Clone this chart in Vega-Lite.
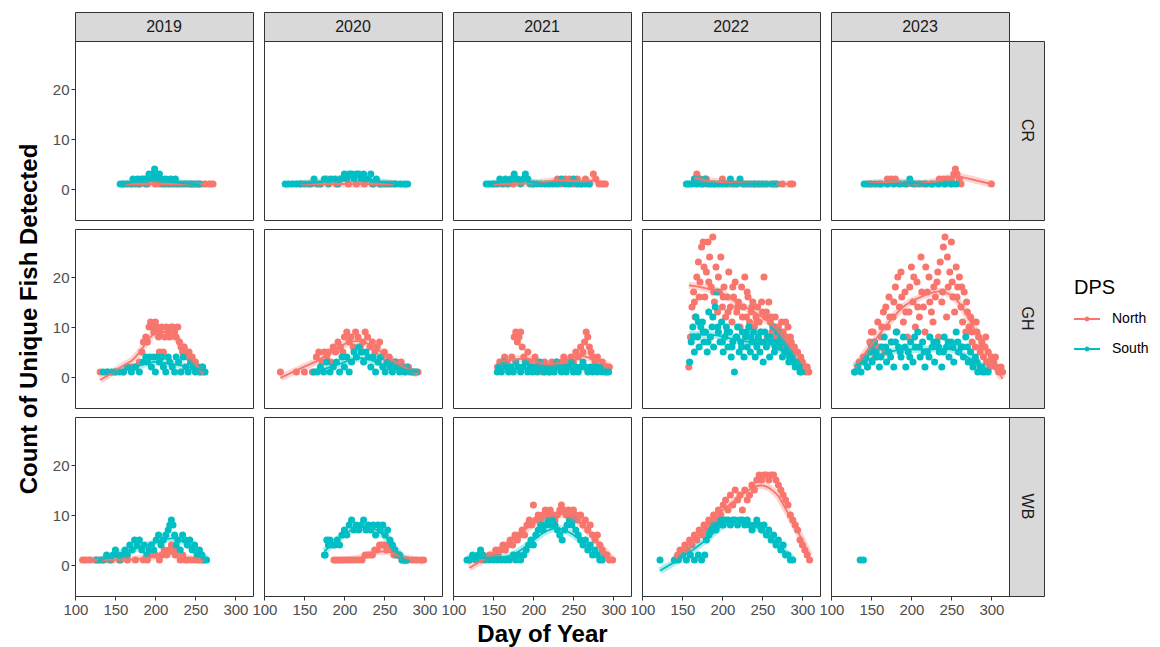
{
"$schema":"https://vega.github.io/schema/vega-lite/v6.json",
"autosize":{"type":"pad"},
"padding":{"left":16,"top":11,"right":5,"bottom":2},
"background":"white",
"datasets":{
"CR19":[{"g":"N","d":160,"n":1},{"g":"N","d":170,"n":1},{"g":"N","d":180,"n":1},{"g":"N","d":190,"n":1},{"g":"N","d":198,"n":2},{"g":"N","d":200,"n":1},{"g":"N","d":203,"n":2},{"g":"N","d":206,"n":1},{"g":"N","d":212,"n":1},{"g":"N","d":218,"n":1},{"g":"N","d":226,"n":1},{"g":"N","d":245,"n":1},{"g":"N","d":255,"n":1},{"g":"N","d":262,"n":1},{"g":"N","d":268,"n":1},{"g":"N","d":272,"n":1},
{"g":"S","d":156,"n":1},{"g":"S","d":160,"n":1},{"g":"S","d":165,"n":1},{"g":"S","d":170,"n":1},{"g":"S","d":172,"n":2},{"g":"S","d":175,"n":1},{"g":"S","d":178,"n":2},{"g":"S","d":180,"n":1},{"g":"S","d":183,"n":2},{"g":"S","d":186,"n":2},{"g":"S","d":188,"n":1},{"g":"S","d":190,"n":2},{"g":"S","d":192,"n":3},{"g":"S","d":195,"n":2},{"g":"S","d":197,"n":3},{"g":"S","d":199,"n":4},{"g":"S","d":201,"n":3},{"g":"S","d":203,"n":2},{"g":"S","d":205,"n":3},{"g":"S","d":207,"n":2},{"g":"S","d":210,"n":1},{"g":"S","d":213,"n":2},{"g":"S","d":216,"n":1},{"g":"S","d":219,"n":2},{"g":"S","d":222,"n":1},{"g":"S","d":225,"n":2},{"g":"S","d":228,"n":1},{"g":"S","d":232,"n":1},{"g":"S","d":236,"n":1},{"g":"S","d":240,"n":1},{"g":"S","d":244,"n":1},{"g":"S","d":248,"n":1},{"g":"S","d":252,"n":1},{"g":"S","d":256,"n":1}],
"CR20":[{"g":"N","d":145,"n":1},{"g":"N","d":155,"n":1},{"g":"N","d":170,"n":1},{"g":"N","d":178,"n":2},{"g":"N","d":190,"n":1},{"g":"N","d":195,"n":2},{"g":"N","d":205,"n":1},{"g":"N","d":215,"n":1},{"g":"N","d":225,"n":1},{"g":"N","d":235,"n":1},{"g":"N","d":245,"n":1},{"g":"N","d":255,"n":1},{"g":"N","d":262,"n":1},
{"g":"S","d":126,"n":1},{"g":"S","d":130,"n":1},{"g":"S","d":135,"n":1},{"g":"S","d":140,"n":1},{"g":"S","d":145,"n":1},{"g":"S","d":150,"n":1},{"g":"S","d":158,"n":1},{"g":"S","d":162,"n":2},{"g":"S","d":166,"n":1},{"g":"S","d":170,"n":1},{"g":"S","d":175,"n":2},{"g":"S","d":180,"n":1},{"g":"S","d":183,"n":2},{"g":"S","d":188,"n":2},{"g":"S","d":192,"n":1},{"g":"S","d":196,"n":2},{"g":"S","d":200,"n":3},{"g":"S","d":203,"n":2},{"g":"S","d":206,"n":3},{"g":"S","d":209,"n":3},{"g":"S","d":212,"n":2},{"g":"S","d":215,"n":3},{"g":"S","d":218,"n":3},{"g":"S","d":221,"n":2},{"g":"S","d":224,"n":3},{"g":"S","d":227,"n":2},{"g":"S","d":230,"n":2},{"g":"S","d":233,"n":3},{"g":"S","d":236,"n":1},{"g":"S","d":240,"n":2},{"g":"S","d":244,"n":1},{"g":"S","d":248,"n":1},{"g":"S","d":252,"n":1},{"g":"S","d":258,"n":1},{"g":"S","d":264,"n":1},{"g":"S","d":270,"n":1},{"g":"S","d":275,"n":1},{"g":"S","d":279,"n":1}],
"CR21":[{"g":"N","d":150,"n":1},{"g":"N","d":175,"n":1},{"g":"N","d":200,"n":1},{"g":"N","d":230,"n":2},{"g":"N","d":235,"n":1},{"g":"N","d":240,"n":2},{"g":"N","d":245,"n":2},{"g":"N","d":250,"n":1},{"g":"N","d":255,"n":2},{"g":"N","d":260,"n":1},{"g":"N","d":265,"n":2},{"g":"N","d":270,"n":1},{"g":"N","d":275,"n":3},{"g":"N","d":278,"n":2},{"g":"N","d":282,"n":1},{"g":"N","d":286,"n":1},{"g":"N","d":290,"n":1},
{"g":"S","d":141,"n":1},{"g":"S","d":145,"n":1},{"g":"S","d":150,"n":1},{"g":"S","d":155,"n":1},{"g":"S","d":158,"n":2},{"g":"S","d":162,"n":1},{"g":"S","d":165,"n":2},{"g":"S","d":168,"n":1},{"g":"S","d":172,"n":2},{"g":"S","d":176,"n":3},{"g":"S","d":180,"n":2},{"g":"S","d":184,"n":1},{"g":"S","d":187,"n":2},{"g":"S","d":190,"n":3},{"g":"S","d":193,"n":2},{"g":"S","d":196,"n":1},{"g":"S","d":200,"n":1},{"g":"S","d":205,"n":1},{"g":"S","d":210,"n":1},{"g":"S","d":215,"n":1},{"g":"S","d":220,"n":1},{"g":"S","d":225,"n":1},{"g":"S","d":230,"n":1},{"g":"S","d":235,"n":2},{"g":"S","d":240,"n":1},{"g":"S","d":245,"n":1},{"g":"S","d":250,"n":2},{"g":"S","d":255,"n":1},{"g":"S","d":260,"n":1},{"g":"S","d":265,"n":1},{"g":"S","d":270,"n":1}],
"CR22":[{"g":"N","d":165,"n":2},{"g":"N","d":168,"n":3},{"g":"N","d":172,"n":2},{"g":"N","d":176,"n":1},{"g":"N","d":180,"n":2},{"g":"N","d":190,"n":1},{"g":"N","d":200,"n":2},{"g":"N","d":210,"n":1},{"g":"N","d":240,"n":1},{"g":"N","d":265,"n":1},{"g":"N","d":275,"n":1},{"g":"N","d":285,"n":1},{"g":"N","d":288,"n":1},
{"g":"S","d":155,"n":1},{"g":"S","d":158,"n":1},{"g":"S","d":162,"n":1},{"g":"S","d":165,"n":2},{"g":"S","d":168,"n":1},{"g":"S","d":171,"n":2},{"g":"S","d":174,"n":1},{"g":"S","d":178,"n":2},{"g":"S","d":182,"n":1},{"g":"S","d":186,"n":1},{"g":"S","d":190,"n":1},{"g":"S","d":195,"n":1},{"g":"S","d":200,"n":1},{"g":"S","d":205,"n":1},{"g":"S","d":210,"n":2},{"g":"S","d":214,"n":1},{"g":"S","d":218,"n":1},{"g":"S","d":222,"n":2},{"g":"S","d":226,"n":1},{"g":"S","d":230,"n":1},{"g":"S","d":235,"n":1},{"g":"S","d":240,"n":1},{"g":"S","d":245,"n":1},{"g":"S","d":250,"n":1},{"g":"S","d":255,"n":1},{"g":"S","d":262,"n":1},{"g":"S","d":268,"n":1}],
"CR23":[{"g":"N","d":145,"n":1},{"g":"N","d":150,"n":1},{"g":"N","d":160,"n":1},{"g":"N","d":170,"n":2},{"g":"N","d":175,"n":2},{"g":"N","d":180,"n":2},{"g":"N","d":185,"n":1},{"g":"N","d":195,"n":1},{"g":"N","d":205,"n":1},{"g":"N","d":215,"n":1},{"g":"N","d":225,"n":1},{"g":"N","d":235,"n":2},{"g":"N","d":240,"n":2},{"g":"N","d":245,"n":2},{"g":"N","d":250,"n":2},{"g":"N","d":253,"n":3},{"g":"N","d":255,"n":4},{"g":"N","d":257,"n":3},{"g":"N","d":260,"n":2},{"g":"N","d":262,"n":1},{"g":"N","d":300,"n":1},
{"g":"S","d":141,"n":1},{"g":"S","d":148,"n":1},{"g":"S","d":155,"n":1},{"g":"S","d":162,"n":1},{"g":"S","d":170,"n":1},{"g":"S","d":178,"n":1},{"g":"S","d":186,"n":1},{"g":"S","d":192,"n":1},{"g":"S","d":198,"n":2},{"g":"S","d":202,"n":1},{"g":"S","d":210,"n":1},{"g":"S","d":218,"n":1},{"g":"S","d":226,"n":1},{"g":"S","d":234,"n":1},{"g":"S","d":242,"n":1},{"g":"S","d":250,"n":1},{"g":"S","d":256,"n":1}],
"GH19":[{"g":"N","d":131,"n":1},{"g":"N","d":140,"n":1},{"g":"N","d":150,"n":1},{"g":"N","d":160,"n":1},{"g":"N","d":165,"n":2},{"g":"N","d":170,"n":2},{"g":"N","d":175,"n":2},{"g":"N","d":180,"n":3},{"g":"N","d":183,"n":5},{"g":"N","d":185,"n":7},{"g":"N","d":188,"n":8},{"g":"N","d":190,"n":7},{"g":"N","d":192,"n":10},{"g":"N","d":194,"n":11},{"g":"N","d":196,"n":10},{"g":"N","d":198,"n":9},{"g":"N","d":200,"n":11},{"g":"N","d":202,"n":10},{"g":"N","d":204,"n":8},{"g":"N","d":205,"n":5},{"g":"N","d":206,"n":9},{"g":"N","d":208,"n":10},{"g":"N","d":210,"n":5},{"g":"N","d":212,"n":8},{"g":"N","d":214,"n":10},{"g":"N","d":216,"n":9},{"g":"N","d":218,"n":8},{"g":"N","d":220,"n":10},{"g":"N","d":222,"n":10},{"g":"N","d":224,"n":9},{"g":"N","d":226,"n":8},{"g":"N","d":228,"n":10},{"g":"N","d":230,"n":7},{"g":"N","d":232,"n":6},{"g":"N","d":234,"n":5},{"g":"N","d":236,"n":6},{"g":"N","d":238,"n":5},{"g":"N","d":240,"n":4},{"g":"N","d":242,"n":5},{"g":"N","d":244,"n":3},{"g":"N","d":246,"n":4},{"g":"N","d":248,"n":2},{"g":"N","d":250,"n":3},{"g":"N","d":252,"n":2},{"g":"N","d":255,"n":1},{"g":"N","d":258,"n":2},{"g":"N","d":260,"n":1},
{"g":"S","d":135,"n":1},{"g":"S","d":140,"n":1},{"g":"S","d":145,"n":1},{"g":"S","d":150,"n":1},{"g":"S","d":155,"n":1},{"g":"S","d":160,"n":1},{"g":"S","d":165,"n":2},{"g":"S","d":170,"n":1},{"g":"S","d":175,"n":2},{"g":"S","d":180,"n":1},{"g":"S","d":185,"n":3},{"g":"S","d":188,"n":4},{"g":"S","d":190,"n":3},{"g":"S","d":193,"n":4},{"g":"S","d":195,"n":2},{"g":"S","d":198,"n":4},{"g":"S","d":200,"n":1},{"g":"S","d":203,"n":4},{"g":"S","d":205,"n":3},{"g":"S","d":208,"n":4},{"g":"S","d":210,"n":2},{"g":"S","d":213,"n":1},{"g":"S","d":216,"n":4},{"g":"S","d":218,"n":3},{"g":"S","d":221,"n":2},{"g":"S","d":224,"n":1},{"g":"S","d":226,"n":4},{"g":"S","d":229,"n":3},{"g":"S","d":232,"n":1},{"g":"S","d":235,"n":4},{"g":"S","d":238,"n":2},{"g":"S","d":241,"n":1},{"g":"S","d":244,"n":3},{"g":"S","d":247,"n":2},{"g":"S","d":250,"n":1},{"g":"S","d":253,"n":2},{"g":"S","d":256,"n":1},{"g":"S","d":259,"n":2},{"g":"S","d":262,"n":1}],
"GH20":[{"g":"N","d":120,"n":1},{"g":"N","d":140,"n":1},{"g":"N","d":150,"n":1},{"g":"N","d":160,"n":1},{"g":"N","d":165,"n":4},{"g":"N","d":168,"n":5},{"g":"N","d":172,"n":3},{"g":"N","d":175,"n":5},{"g":"N","d":178,"n":4},{"g":"N","d":180,"n":5},{"g":"N","d":183,"n":3},{"g":"N","d":186,"n":6},{"g":"N","d":189,"n":5},{"g":"N","d":192,"n":7},{"g":"N","d":195,"n":6},{"g":"N","d":198,"n":5},{"g":"N","d":200,"n":8},{"g":"N","d":203,"n":9},{"g":"N","d":206,"n":7},{"g":"N","d":208,"n":8},{"g":"N","d":211,"n":6},{"g":"N","d":214,"n":9},{"g":"N","d":217,"n":8},{"g":"N","d":220,"n":6},{"g":"N","d":223,"n":7},{"g":"N","d":226,"n":9},{"g":"N","d":229,"n":8},{"g":"N","d":232,"n":6},{"g":"N","d":235,"n":7},{"g":"N","d":238,"n":5},{"g":"N","d":241,"n":6},{"g":"N","d":244,"n":7},{"g":"N","d":247,"n":4},{"g":"N","d":250,"n":5},{"g":"N","d":253,"n":3},{"g":"N","d":256,"n":4},{"g":"N","d":259,"n":3},{"g":"N","d":262,"n":2},{"g":"N","d":265,"n":3},{"g":"N","d":268,"n":2},{"g":"N","d":271,"n":3},{"g":"N","d":274,"n":2},{"g":"N","d":277,"n":1},{"g":"N","d":280,"n":2},{"g":"N","d":284,"n":1},{"g":"N","d":288,"n":1},{"g":"N","d":292,"n":1},
{"g":"S","d":162,"n":1},{"g":"S","d":166,"n":1},{"g":"S","d":170,"n":2},{"g":"S","d":174,"n":1},{"g":"S","d":178,"n":3},{"g":"S","d":182,"n":1},{"g":"S","d":186,"n":2},{"g":"S","d":190,"n":3},{"g":"S","d":194,"n":1},{"g":"S","d":197,"n":4},{"g":"S","d":200,"n":2},{"g":"S","d":203,"n":4},{"g":"S","d":206,"n":1},{"g":"S","d":209,"n":3},{"g":"S","d":212,"n":5},{"g":"S","d":215,"n":4},{"g":"S","d":218,"n":6},{"g":"S","d":221,"n":5},{"g":"S","d":224,"n":3},{"g":"S","d":227,"n":5},{"g":"S","d":230,"n":4},{"g":"S","d":233,"n":2},{"g":"S","d":236,"n":4},{"g":"S","d":239,"n":1},{"g":"S","d":242,"n":3},{"g":"S","d":245,"n":4},{"g":"S","d":248,"n":2},{"g":"S","d":251,"n":1},{"g":"S","d":254,"n":3},{"g":"S","d":257,"n":2},{"g":"S","d":260,"n":1},{"g":"S","d":263,"n":3},{"g":"S","d":266,"n":2},{"g":"S","d":269,"n":1},{"g":"S","d":272,"n":2},{"g":"S","d":275,"n":1},{"g":"S","d":278,"n":2},{"g":"S","d":282,"n":1},{"g":"S","d":286,"n":1},{"g":"S","d":290,"n":1}],
"GH21":[{"g":"N","d":155,"n":2},{"g":"N","d":158,"n":3},{"g":"N","d":161,"n":2},{"g":"N","d":164,"n":4},{"g":"N","d":167,"n":3},{"g":"N","d":170,"n":2},{"g":"N","d":173,"n":4},{"g":"N","d":176,"n":8},{"g":"N","d":178,"n":9},{"g":"N","d":180,"n":7},{"g":"N","d":182,"n":8},{"g":"N","d":184,"n":9},{"g":"N","d":186,"n":6},{"g":"N","d":188,"n":4},{"g":"N","d":190,"n":3},{"g":"N","d":193,"n":5},{"g":"N","d":196,"n":3},{"g":"N","d":199,"n":2},{"g":"N","d":202,"n":4},{"g":"N","d":205,"n":3},{"g":"N","d":208,"n":2},{"g":"N","d":211,"n":1},{"g":"N","d":214,"n":3},{"g":"N","d":217,"n":2},{"g":"N","d":220,"n":1},{"g":"N","d":223,"n":3},{"g":"N","d":226,"n":2},{"g":"N","d":229,"n":3},{"g":"N","d":232,"n":2},{"g":"N","d":235,"n":3},{"g":"N","d":238,"n":4},{"g":"N","d":241,"n":3},{"g":"N","d":244,"n":2},{"g":"N","d":247,"n":4},{"g":"N","d":250,"n":3},{"g":"N","d":253,"n":5},{"g":"N","d":256,"n":4},{"g":"N","d":259,"n":6},{"g":"N","d":262,"n":5},{"g":"N","d":264,"n":7},{"g":"N","d":266,"n":9},{"g":"N","d":268,"n":8},{"g":"N","d":270,"n":6},{"g":"N","d":272,"n":5},{"g":"N","d":274,"n":4},{"g":"N","d":277,"n":3},{"g":"N","d":280,"n":4},{"g":"N","d":283,"n":2},{"g":"N","d":286,"n":3},{"g":"N","d":289,"n":2},{"g":"N","d":292,"n":1},{"g":"N","d":295,"n":2},
{"g":"S","d":155,"n":1},{"g":"S","d":157,"n":2},{"g":"S","d":160,"n":1},{"g":"S","d":163,"n":3},{"g":"S","d":166,"n":2},{"g":"S","d":169,"n":1},{"g":"S","d":172,"n":2},{"g":"S","d":175,"n":1},{"g":"S","d":178,"n":3},{"g":"S","d":181,"n":2},{"g":"S","d":184,"n":1},{"g":"S","d":187,"n":2},{"g":"S","d":190,"n":3},{"g":"S","d":193,"n":1},{"g":"S","d":196,"n":2},{"g":"S","d":199,"n":1},{"g":"S","d":202,"n":2},{"g":"S","d":205,"n":1},{"g":"S","d":208,"n":3},{"g":"S","d":211,"n":2},{"g":"S","d":214,"n":1},{"g":"S","d":217,"n":2},{"g":"S","d":220,"n":1},{"g":"S","d":223,"n":2},{"g":"S","d":226,"n":1},{"g":"S","d":229,"n":3},{"g":"S","d":232,"n":2},{"g":"S","d":235,"n":1},{"g":"S","d":238,"n":2},{"g":"S","d":241,"n":1},{"g":"S","d":244,"n":2},{"g":"S","d":247,"n":3},{"g":"S","d":250,"n":1},{"g":"S","d":253,"n":2},{"g":"S","d":256,"n":1},{"g":"S","d":259,"n":2},{"g":"S","d":262,"n":3},{"g":"S","d":265,"n":2},{"g":"S","d":268,"n":1},{"g":"S","d":271,"n":2},{"g":"S","d":274,"n":1},{"g":"S","d":277,"n":2},{"g":"S","d":280,"n":1},{"g":"S","d":283,"n":2},{"g":"S","d":286,"n":1},{"g":"S","d":290,"n":1},{"g":"S","d":294,"n":1}],
"GH22":[{"g":"N","d":158,"n":2},{"g":"N","d":160,"n":8},{"g":"N","d":162,"n":14},{"g":"N","d":164,"n":17},{"g":"N","d":166,"n":12},{"g":"N","d":168,"n":20},{"g":"N","d":170,"n":23},{"g":"N","d":172,"n":19},{"g":"N","d":174,"n":26},{"g":"N","d":176,"n":27},{"g":"N","d":178,"n":16},{"g":"N","d":180,"n":21},{"g":"N","d":182,"n":27},{"g":"N","d":184,"n":24},{"g":"N","d":186,"n":18},{"g":"N","d":188,"n":28},{"g":"N","d":190,"n":15},{"g":"N","d":192,"n":22},{"g":"N","d":194,"n":13},{"g":"N","d":196,"n":17},{"g":"N","d":198,"n":24},{"g":"N","d":200,"n":14},{"g":"N","d":202,"n":18},{"g":"N","d":204,"n":12},{"g":"N","d":206,"n":16},{"g":"N","d":208,"n":21},{"g":"N","d":210,"n":14},{"g":"N","d":212,"n":11},{"g":"N","d":214,"n":16},{"g":"N","d":216,"n":19},{"g":"N","d":218,"n":13},{"g":"N","d":220,"n":15},{"g":"N","d":222,"n":10},{"g":"N","d":224,"n":18},{"g":"N","d":226,"n":14},{"g":"N","d":228,"n":20},{"g":"N","d":230,"n":12},{"g":"N","d":232,"n":16},{"g":"N","d":234,"n":11},{"g":"N","d":236,"n":13},{"g":"N","d":238,"n":15},{"g":"N","d":240,"n":10},{"g":"N","d":242,"n":12},{"g":"N","d":244,"n":14},{"g":"N","d":246,"n":11},{"g":"N","d":248,"n":9},{"g":"N","d":250,"n":13},{"g":"N","d":252,"n":20},{"g":"N","d":254,"n":12},{"g":"N","d":256,"n":8},{"g":"N","d":258,"n":15},{"g":"N","d":260,"n":11},{"g":"N","d":262,"n":9},{"g":"N","d":264,"n":10},{"g":"N","d":266,"n":12},{"g":"N","d":268,"n":8},{"g":"N","d":270,"n":10},{"g":"N","d":272,"n":7},{"g":"N","d":274,"n":11},{"g":"N","d":276,"n":9},{"g":"N","d":278,"n":6},{"g":"N","d":280,"n":8},{"g":"N","d":282,"n":10},{"g":"N","d":284,"n":5},{"g":"N","d":286,"n":7},{"g":"N","d":288,"n":4},{"g":"N","d":290,"n":6},{"g":"N","d":292,"n":3},{"g":"N","d":294,"n":5},{"g":"N","d":296,"n":2},{"g":"N","d":298,"n":4},{"g":"N","d":300,"n":3},{"g":"N","d":302,"n":2},{"g":"N","d":304,"n":1},{"g":"N","d":306,"n":2},{"g":"N","d":308,"n":1},{"g":"N","d":165,"n":15},{"g":"N","d":171,"n":16},{"g":"N","d":177,"n":22},{"g":"N","d":183,"n":19},{"g":"N","d":189,"n":17},{"g":"N","d":195,"n":20},{"g":"N","d":201,"n":16},{"g":"N","d":207,"n":13},{"g":"N","d":213,"n":18},{"g":"N","d":219,"n":14},{"g":"N","d":225,"n":12},{"g":"N","d":231,"n":17},{"g":"N","d":237,"n":14},{"g":"N","d":243,"n":11},{"g":"N","d":249,"n":15},{"g":"N","d":255,"n":13},{"g":"N","d":261,"n":12},{"g":"N","d":267,"n":10},{"g":"N","d":273,"n":9},{"g":"N","d":279,"n":11},{"g":"N","d":285,"n":8},{"g":"N","d":291,"n":5},{"g":"N","d":297,"n":3},{"g":"N","d":303,"n":2},
{"g":"S","d":159,"n":3},{"g":"S","d":161,"n":7},{"g":"S","d":163,"n":10},{"g":"S","d":165,"n":5},{"g":"S","d":167,"n":12},{"g":"S","d":169,"n":8},{"g":"S","d":171,"n":6},{"g":"S","d":173,"n":10},{"g":"S","d":175,"n":11},{"g":"S","d":177,"n":7},{"g":"S","d":179,"n":9},{"g":"S","d":181,"n":5},{"g":"S","d":183,"n":13},{"g":"S","d":185,"n":8},{"g":"S","d":187,"n":10},{"g":"S","d":189,"n":6},{"g":"S","d":191,"n":14},{"g":"S","d":193,"n":17},{"g":"S","d":195,"n":9},{"g":"S","d":197,"n":7},{"g":"S","d":199,"n":11},{"g":"S","d":201,"n":5},{"g":"S","d":203,"n":8},{"g":"S","d":205,"n":10},{"g":"S","d":207,"n":6},{"g":"S","d":209,"n":9},{"g":"S","d":211,"n":4},{"g":"S","d":213,"n":7},{"g":"S","d":215,"n":1},{"g":"S","d":217,"n":8},{"g":"S","d":219,"n":10},{"g":"S","d":221,"n":5},{"g":"S","d":223,"n":7},{"g":"S","d":225,"n":9},{"g":"S","d":227,"n":4},{"g":"S","d":229,"n":8},{"g":"S","d":231,"n":6},{"g":"S","d":233,"n":10},{"g":"S","d":235,"n":5},{"g":"S","d":237,"n":7},{"g":"S","d":239,"n":9},{"g":"S","d":241,"n":4},{"g":"S","d":243,"n":6},{"g":"S","d":245,"n":8},{"g":"S","d":247,"n":5},{"g":"S","d":249,"n":7},{"g":"S","d":251,"n":3},{"g":"S","d":253,"n":9},{"g":"S","d":255,"n":6},{"g":"S","d":257,"n":8},{"g":"S","d":259,"n":4},{"g":"S","d":261,"n":7},{"g":"S","d":263,"n":10},{"g":"S","d":265,"n":5},{"g":"S","d":267,"n":7},{"g":"S","d":269,"n":9},{"g":"S","d":271,"n":6},{"g":"S","d":273,"n":8},{"g":"S","d":275,"n":4},{"g":"S","d":277,"n":7},{"g":"S","d":279,"n":5},{"g":"S","d":281,"n":6},{"g":"S","d":283,"n":3},{"g":"S","d":285,"n":5},{"g":"S","d":287,"n":4},{"g":"S","d":289,"n":3},{"g":"S","d":291,"n":2},{"g":"S","d":293,"n":3},{"g":"S","d":295,"n":2},{"g":"S","d":297,"n":1},{"g":"S","d":299,"n":1},{"g":"S","d":164,"n":8},{"g":"S","d":170,"n":11},{"g":"S","d":176,"n":9},{"g":"S","d":182,"n":7},{"g":"S","d":188,"n":12},{"g":"S","d":194,"n":10},{"g":"S","d":200,"n":7},{"g":"S","d":206,"n":9},{"g":"S","d":212,"n":6},{"g":"S","d":218,"n":8},{"g":"S","d":224,"n":6},{"g":"S","d":230,"n":9},{"g":"S","d":236,"n":8},{"g":"S","d":242,"n":7},{"g":"S","d":248,"n":9},{"g":"S","d":254,"n":7},{"g":"S","d":260,"n":8},{"g":"S","d":266,"n":6},{"g":"S","d":272,"n":7},{"g":"S","d":278,"n":5},{"g":"S","d":284,"n":4},{"g":"S","d":290,"n":3},{"g":"S","d":296,"n":2}],
"GH23":[{"g":"N","d":129,"n":1},{"g":"N","d":135,"n":3},{"g":"N","d":140,"n":4},{"g":"N","d":145,"n":2},{"g":"N","d":148,"n":7},{"g":"N","d":150,"n":5},{"g":"N","d":152,"n":9},{"g":"N","d":155,"n":4},{"g":"N","d":158,"n":11},{"g":"N","d":160,"n":6},{"g":"N","d":162,"n":8},{"g":"N","d":165,"n":13},{"g":"N","d":167,"n":5},{"g":"N","d":170,"n":10},{"g":"N","d":172,"n":16},{"g":"N","d":175,"n":7},{"g":"N","d":177,"n":12},{"g":"N","d":180,"n":18},{"g":"N","d":182,"n":9},{"g":"N","d":185,"n":14},{"g":"N","d":187,"n":21},{"g":"N","d":190,"n":11},{"g":"N","d":192,"n":17},{"g":"N","d":195,"n":8},{"g":"N","d":197,"n":13},{"g":"N","d":200,"n":22},{"g":"N","d":202,"n":15},{"g":"N","d":205,"n":10},{"g":"N","d":207,"n":19},{"g":"N","d":210,"n":12},{"g":"N","d":212,"n":24},{"g":"N","d":215,"n":14},{"g":"N","d":217,"n":9},{"g":"N","d":220,"n":17},{"g":"N","d":222,"n":20},{"g":"N","d":225,"n":13},{"g":"N","d":227,"n":11},{"g":"N","d":230,"n":16},{"g":"N","d":232,"n":19},{"g":"N","d":234,"n":8},{"g":"N","d":236,"n":23},{"g":"N","d":238,"n":15},{"g":"N","d":240,"n":26},{"g":"N","d":242,"n":28},{"g":"N","d":244,"n":12},{"g":"N","d":246,"n":18},{"g":"N","d":248,"n":21},{"g":"N","d":250,"n":27},{"g":"N","d":252,"n":16},{"g":"N","d":254,"n":13},{"g":"N","d":256,"n":22},{"g":"N","d":258,"n":18},{"g":"N","d":260,"n":20},{"g":"N","d":262,"n":14},{"g":"N","d":264,"n":11},{"g":"N","d":266,"n":17},{"g":"N","d":268,"n":9},{"g":"N","d":270,"n":13},{"g":"N","d":272,"n":10},{"g":"N","d":274,"n":12},{"g":"N","d":276,"n":7},{"g":"N","d":278,"n":11},{"g":"N","d":280,"n":6},{"g":"N","d":282,"n":9},{"g":"N","d":284,"n":8},{"g":"N","d":286,"n":5},{"g":"N","d":288,"n":7},{"g":"N","d":290,"n":4},{"g":"N","d":292,"n":6},{"g":"N","d":294,"n":3},{"g":"N","d":296,"n":5},{"g":"N","d":298,"n":2},{"g":"N","d":300,"n":4},{"g":"N","d":303,"n":3},{"g":"N","d":306,"n":2},{"g":"N","d":309,"n":1},{"g":"N","d":312,"n":2},{"g":"N","d":314,"n":1},{"g":"N","d":150,"n":9},{"g":"N","d":156,"n":6},{"g":"N","d":163,"n":10},{"g":"N","d":168,"n":14},{"g":"N","d":173,"n":12},{"g":"N","d":178,"n":15},{"g":"N","d":183,"n":20},{"g":"N","d":188,"n":16},{"g":"N","d":193,"n":13},{"g":"N","d":198,"n":18},{"g":"N","d":203,"n":20},{"g":"N","d":208,"n":14},{"g":"N","d":213,"n":17},{"g":"N","d":218,"n":22},{"g":"N","d":223,"n":15},{"g":"N","d":228,"n":18},{"g":"N","d":233,"n":21},{"g":"N","d":239,"n":17},{"g":"N","d":245,"n":24},{"g":"N","d":251,"n":19},{"g":"N","d":257,"n":16},{"g":"N","d":263,"n":18},{"g":"N","d":269,"n":15},{"g":"N","d":275,"n":9},{"g":"N","d":281,"n":11},{"g":"N","d":287,"n":6},{"g":"N","d":293,"n":8},{"g":"N","d":299,"n":3},{"g":"N","d":305,"n":4},
{"g":"S","d":129,"n":1},{"g":"S","d":133,"n":2},{"g":"S","d":137,"n":1},{"g":"S","d":141,"n":3},{"g":"S","d":145,"n":2},{"g":"S","d":148,"n":5},{"g":"S","d":151,"n":3},{"g":"S","d":154,"n":7},{"g":"S","d":157,"n":4},{"g":"S","d":160,"n":2},{"g":"S","d":163,"n":6},{"g":"S","d":166,"n":8},{"g":"S","d":169,"n":3},{"g":"S","d":172,"n":5},{"g":"S","d":175,"n":7},{"g":"S","d":178,"n":2},{"g":"S","d":181,"n":9},{"g":"S","d":184,"n":6},{"g":"S","d":187,"n":4},{"g":"S","d":190,"n":8},{"g":"S","d":193,"n":2},{"g":"S","d":196,"n":5},{"g":"S","d":199,"n":7},{"g":"S","d":202,"n":3},{"g":"S","d":205,"n":6},{"g":"S","d":208,"n":9},{"g":"S","d":211,"n":4},{"g":"S","d":214,"n":7},{"g":"S","d":217,"n":2},{"g":"S","d":220,"n":5},{"g":"S","d":223,"n":8},{"g":"S","d":226,"n":6},{"g":"S","d":229,"n":3},{"g":"S","d":232,"n":7},{"g":"S","d":235,"n":5},{"g":"S","d":238,"n":2},{"g":"S","d":241,"n":8},{"g":"S","d":244,"n":6},{"g":"S","d":247,"n":4},{"g":"S","d":250,"n":7},{"g":"S","d":253,"n":3},{"g":"S","d":256,"n":9},{"g":"S","d":259,"n":5},{"g":"S","d":262,"n":6},{"g":"S","d":265,"n":4},{"g":"S","d":268,"n":8},{"g":"S","d":271,"n":3},{"g":"S","d":274,"n":5},{"g":"S","d":277,"n":2},{"g":"S","d":280,"n":4},{"g":"S","d":283,"n":1},{"g":"S","d":286,"n":2},{"g":"S","d":289,"n":1},{"g":"S","d":292,"n":1},{"g":"S","d":296,"n":1},{"g":"S","d":143,"n":4},{"g":"S","d":150,"n":6},{"g":"S","d":156,"n":5},{"g":"S","d":162,"n":4},{"g":"S","d":168,"n":6},{"g":"S","d":174,"n":4},{"g":"S","d":180,"n":7},{"g":"S","d":186,"n":5},{"g":"S","d":192,"n":6},{"g":"S","d":198,"n":4},{"g":"S","d":204,"n":8},{"g":"S","d":210,"n":6},{"g":"S","d":216,"n":5},{"g":"S","d":222,"n":4},{"g":"S","d":228,"n":7},{"g":"S","d":234,"n":6},{"g":"S","d":240,"n":5},{"g":"S","d":246,"n":7},{"g":"S","d":252,"n":6},{"g":"S","d":258,"n":7},{"g":"S","d":264,"n":6},{"g":"S","d":270,"n":6},{"g":"S","d":276,"n":3},{"g":"S","d":282,"n":3},{"g":"S","d":288,"n":2}],
"WB19":[{"g":"N","d":109,"n":1},{"g":"N","d":113,"n":1},{"g":"N","d":118,"n":1},{"g":"N","d":125,"n":1},{"g":"N","d":135,"n":1},{"g":"N","d":145,"n":1},{"g":"N","d":155,"n":1},{"g":"N","d":165,"n":1},{"g":"N","d":175,"n":1},{"g":"N","d":185,"n":1},{"g":"N","d":190,"n":1},{"g":"N","d":195,"n":2},{"g":"N","d":200,"n":2},{"g":"N","d":205,"n":1},{"g":"N","d":208,"n":2},{"g":"N","d":211,"n":3},{"g":"N","d":214,"n":2},{"g":"N","d":217,"n":3},{"g":"N","d":220,"n":4},{"g":"N","d":222,"n":3},{"g":"N","d":225,"n":2},{"g":"N","d":228,"n":3},{"g":"N","d":231,"n":1},{"g":"N","d":234,"n":2},{"g":"N","d":237,"n":1},{"g":"N","d":240,"n":1},{"g":"N","d":245,"n":1},{"g":"N","d":250,"n":1},{"g":"N","d":255,"n":1},{"g":"N","d":260,"n":1},
{"g":"S","d":127,"n":1},{"g":"S","d":131,"n":1},{"g":"S","d":135,"n":1},{"g":"S","d":139,"n":2},{"g":"S","d":143,"n":1},{"g":"S","d":147,"n":2},{"g":"S","d":150,"n":3},{"g":"S","d":153,"n":2},{"g":"S","d":156,"n":1},{"g":"S","d":159,"n":2},{"g":"S","d":162,"n":3},{"g":"S","d":165,"n":2},{"g":"S","d":168,"n":4},{"g":"S","d":171,"n":3},{"g":"S","d":174,"n":5},{"g":"S","d":177,"n":4},{"g":"S","d":180,"n":5},{"g":"S","d":183,"n":3},{"g":"S","d":186,"n":4},{"g":"S","d":189,"n":2},{"g":"S","d":192,"n":3},{"g":"S","d":195,"n":4},{"g":"S","d":198,"n":3},{"g":"S","d":201,"n":5},{"g":"S","d":204,"n":6},{"g":"S","d":207,"n":4},{"g":"S","d":210,"n":5},{"g":"S","d":213,"n":6},{"g":"S","d":216,"n":7},{"g":"S","d":218,"n":8},{"g":"S","d":220,"n":9},{"g":"S","d":222,"n":8},{"g":"S","d":224,"n":6},{"g":"S","d":226,"n":4},{"g":"S","d":228,"n":5},{"g":"S","d":231,"n":3},{"g":"S","d":234,"n":6},{"g":"S","d":237,"n":5},{"g":"S","d":240,"n":4},{"g":"S","d":243,"n":5},{"g":"S","d":246,"n":3},{"g":"S","d":249,"n":4},{"g":"S","d":252,"n":2},{"g":"S","d":255,"n":3},{"g":"S","d":258,"n":2},{"g":"S","d":261,"n":1},{"g":"S","d":264,"n":1}],
"WB20":[{"g":"N","d":187,"n":1},{"g":"N","d":190,"n":1},{"g":"N","d":194,"n":1},{"g":"N","d":198,"n":1},{"g":"N","d":202,"n":1},{"g":"N","d":206,"n":1},{"g":"N","d":210,"n":1},{"g":"N","d":214,"n":1},{"g":"N","d":218,"n":1},{"g":"N","d":222,"n":1},{"g":"N","d":226,"n":2},{"g":"N","d":229,"n":2},{"g":"N","d":232,"n":2},{"g":"N","d":235,"n":2},{"g":"N","d":238,"n":3},{"g":"N","d":241,"n":3},{"g":"N","d":244,"n":4},{"g":"N","d":247,"n":4},{"g":"N","d":250,"n":4},{"g":"N","d":253,"n":3},{"g":"N","d":256,"n":4},{"g":"N","d":259,"n":3},{"g":"N","d":262,"n":2},{"g":"N","d":265,"n":2},{"g":"N","d":268,"n":2},{"g":"N","d":272,"n":1},{"g":"N","d":276,"n":1},{"g":"N","d":280,"n":1},{"g":"N","d":285,"n":1},{"g":"N","d":290,"n":1},{"g":"N","d":295,"n":1},{"g":"N","d":299,"n":1},
{"g":"S","d":175,"n":2},{"g":"S","d":176,"n":2},{"g":"S","d":178,"n":5},{"g":"S","d":180,"n":4},{"g":"S","d":182,"n":5},{"g":"S","d":185,"n":4},{"g":"S","d":188,"n":4},{"g":"S","d":191,"n":5},{"g":"S","d":194,"n":4},{"g":"S","d":197,"n":6},{"g":"S","d":200,"n":7},{"g":"S","d":203,"n":6},{"g":"S","d":206,"n":8},{"g":"S","d":209,"n":9},{"g":"S","d":212,"n":7},{"g":"S","d":215,"n":8},{"g":"S","d":218,"n":7},{"g":"S","d":221,"n":8},{"g":"S","d":224,"n":9},{"g":"S","d":227,"n":7},{"g":"S","d":230,"n":8},{"g":"S","d":233,"n":7},{"g":"S","d":236,"n":8},{"g":"S","d":239,"n":6},{"g":"S","d":242,"n":8},{"g":"S","d":245,"n":7},{"g":"S","d":248,"n":8},{"g":"S","d":251,"n":6},{"g":"S","d":254,"n":7},{"g":"S","d":257,"n":5},{"g":"S","d":260,"n":4},{"g":"S","d":263,"n":3},{"g":"S","d":266,"n":2},{"g":"S","d":269,"n":2},{"g":"S","d":272,"n":1},{"g":"S","d":275,"n":1},{"g":"S","d":278,"n":1}],
"WB21":[{"g":"N","d":120,"n":1},{"g":"N","d":136,"n":1},{"g":"N","d":145,"n":2},{"g":"N","d":150,"n":2},{"g":"N","d":153,"n":3},{"g":"N","d":156,"n":2},{"g":"N","d":159,"n":3},{"g":"N","d":162,"n":4},{"g":"N","d":165,"n":3},{"g":"N","d":168,"n":4},{"g":"N","d":171,"n":5},{"g":"N","d":174,"n":4},{"g":"N","d":177,"n":6},{"g":"N","d":180,"n":5},{"g":"N","d":183,"n":6},{"g":"N","d":186,"n":7},{"g":"N","d":189,"n":6},{"g":"N","d":192,"n":8},{"g":"N","d":195,"n":9},{"g":"N","d":198,"n":8},{"g":"N","d":200,"n":12},{"g":"N","d":203,"n":9},{"g":"N","d":206,"n":10},{"g":"N","d":209,"n":9},{"g":"N","d":212,"n":10},{"g":"N","d":215,"n":11},{"g":"N","d":218,"n":10},{"g":"N","d":221,"n":11},{"g":"N","d":224,"n":10},{"g":"N","d":227,"n":9},{"g":"N","d":230,"n":10},{"g":"N","d":233,"n":11},{"g":"N","d":235,"n":12},{"g":"N","d":238,"n":11},{"g":"N","d":241,"n":10},{"g":"N","d":244,"n":11},{"g":"N","d":247,"n":10},{"g":"N","d":250,"n":11},{"g":"N","d":253,"n":10},{"g":"N","d":256,"n":9},{"g":"N","d":259,"n":10},{"g":"N","d":262,"n":8},{"g":"N","d":265,"n":9},{"g":"N","d":268,"n":7},{"g":"N","d":271,"n":8},{"g":"N","d":274,"n":6},{"g":"N","d":277,"n":5},{"g":"N","d":280,"n":6},{"g":"N","d":283,"n":4},{"g":"N","d":286,"n":3},{"g":"N","d":289,"n":2},{"g":"N","d":292,"n":2},{"g":"N","d":295,"n":1},{"g":"N","d":299,"n":1},
{"g":"S","d":117,"n":1},{"g":"S","d":120,"n":1},{"g":"S","d":124,"n":2},{"g":"S","d":128,"n":1},{"g":"S","d":131,"n":2},{"g":"S","d":134,"n":3},{"g":"S","d":137,"n":2},{"g":"S","d":140,"n":1},{"g":"S","d":145,"n":1},{"g":"S","d":150,"n":1},{"g":"S","d":155,"n":1},{"g":"S","d":160,"n":1},{"g":"S","d":165,"n":1},{"g":"S","d":170,"n":1},{"g":"S","d":175,"n":2},{"g":"S","d":178,"n":1},{"g":"S","d":181,"n":2},{"g":"S","d":184,"n":1},{"g":"S","d":188,"n":2},{"g":"S","d":191,"n":3},{"g":"S","d":194,"n":4},{"g":"S","d":197,"n":5},{"g":"S","d":200,"n":4},{"g":"S","d":203,"n":6},{"g":"S","d":206,"n":7},{"g":"S","d":209,"n":8},{"g":"S","d":212,"n":7},{"g":"S","d":215,"n":8},{"g":"S","d":218,"n":9},{"g":"S","d":221,"n":8},{"g":"S","d":224,"n":9},{"g":"S","d":227,"n":8},{"g":"S","d":230,"n":7},{"g":"S","d":233,"n":6},{"g":"S","d":236,"n":5},{"g":"S","d":239,"n":7},{"g":"S","d":242,"n":8},{"g":"S","d":245,"n":9},{"g":"S","d":248,"n":8},{"g":"S","d":250,"n":9},{"g":"S","d":253,"n":7},{"g":"S","d":256,"n":6},{"g":"S","d":259,"n":5},{"g":"S","d":262,"n":4},{"g":"S","d":265,"n":5},{"g":"S","d":268,"n":3},{"g":"S","d":271,"n":4},{"g":"S","d":274,"n":2},{"g":"S","d":277,"n":3},{"g":"S","d":280,"n":2},{"g":"S","d":283,"n":1},{"g":"S","d":286,"n":1}],
"WB22":[{"g":"N","d":141,"n":1},{"g":"N","d":144,"n":2},{"g":"N","d":147,"n":3},{"g":"N","d":150,"n":2},{"g":"N","d":153,"n":4},{"g":"N","d":156,"n":3},{"g":"N","d":159,"n":5},{"g":"N","d":162,"n":4},{"g":"N","d":165,"n":6},{"g":"N","d":168,"n":5},{"g":"N","d":171,"n":7},{"g":"N","d":174,"n":6},{"g":"N","d":177,"n":8},{"g":"N","d":180,"n":7},{"g":"N","d":183,"n":9},{"g":"N","d":186,"n":8},{"g":"N","d":189,"n":10},{"g":"N","d":192,"n":9},{"g":"N","d":195,"n":11},{"g":"N","d":198,"n":10},{"g":"N","d":201,"n":12},{"g":"N","d":204,"n":13},{"g":"N","d":207,"n":11},{"g":"N","d":210,"n":14},{"g":"N","d":213,"n":12},{"g":"N","d":216,"n":15},{"g":"N","d":219,"n":13},{"g":"N","d":222,"n":14},{"g":"N","d":225,"n":11},{"g":"N","d":228,"n":15},{"g":"N","d":231,"n":13},{"g":"N","d":234,"n":14},{"g":"N","d":237,"n":16},{"g":"N","d":240,"n":15},{"g":"N","d":243,"n":17},{"g":"N","d":246,"n":18},{"g":"N","d":249,"n":17},{"g":"N","d":252,"n":18},{"g":"N","d":255,"n":18},{"g":"N","d":258,"n":17},{"g":"N","d":261,"n":18},{"g":"N","d":264,"n":18},{"g":"N","d":267,"n":17},{"g":"N","d":270,"n":16},{"g":"N","d":273,"n":15},{"g":"N","d":276,"n":14},{"g":"N","d":279,"n":13},{"g":"N","d":282,"n":12},{"g":"N","d":285,"n":10},{"g":"N","d":288,"n":9},{"g":"N","d":291,"n":8},{"g":"N","d":294,"n":7},{"g":"N","d":297,"n":5},{"g":"N","d":300,"n":4},{"g":"N","d":303,"n":3},{"g":"N","d":306,"n":2},{"g":"N","d":309,"n":1},
{"g":"S","d":122,"n":1},{"g":"S","d":140,"n":1},{"g":"S","d":145,"n":1},{"g":"S","d":150,"n":2},{"g":"S","d":155,"n":1},{"g":"S","d":160,"n":2},{"g":"S","d":165,"n":1},{"g":"S","d":170,"n":2},{"g":"S","d":174,"n":1},{"g":"S","d":178,"n":2},{"g":"S","d":180,"n":5},{"g":"S","d":183,"n":6},{"g":"S","d":186,"n":7},{"g":"S","d":189,"n":8},{"g":"S","d":192,"n":7},{"g":"S","d":195,"n":8},{"g":"S","d":198,"n":9},{"g":"S","d":201,"n":8},{"g":"S","d":204,"n":9},{"g":"S","d":207,"n":9},{"g":"S","d":210,"n":8},{"g":"S","d":213,"n":9},{"g":"S","d":216,"n":9},{"g":"S","d":219,"n":8},{"g":"S","d":222,"n":9},{"g":"S","d":225,"n":9},{"g":"S","d":228,"n":8},{"g":"S","d":231,"n":9},{"g":"S","d":234,"n":8},{"g":"S","d":237,"n":7},{"g":"S","d":240,"n":8},{"g":"S","d":243,"n":9},{"g":"S","d":246,"n":8},{"g":"S","d":249,"n":7},{"g":"S","d":252,"n":8},{"g":"S","d":255,"n":6},{"g":"S","d":258,"n":7},{"g":"S","d":261,"n":5},{"g":"S","d":264,"n":6},{"g":"S","d":267,"n":4},{"g":"S","d":270,"n":5},{"g":"S","d":273,"n":3},{"g":"S","d":276,"n":4},{"g":"S","d":279,"n":2},{"g":"S","d":282,"n":2},{"g":"S","d":285,"n":1},{"g":"S","d":288,"n":1}],
"WB23":[{"g":"S","d":136,"n":1},{"g":"S","d":140,"n":1}]
},
"concat":[
{"data":{"values":[{"t":"2019"}]},"width":178,"height":29,"view":{"fill":"#D9D9D9","stroke":"#333333"},"mark":{"type":"text","fontSize":16,"color":"#1A1A1A"},"encoding":{"text":{"field":"t","type":"nominal"}}},
{"data":{"values":[]},"width":11,"height":1,"view":{"stroke":null},"mark":"point"},
{"data":{"values":[{"t":"2020"}]},"width":178,"height":29,"view":{"fill":"#D9D9D9","stroke":"#333333"},"mark":{"type":"text","fontSize":16,"color":"#1A1A1A"},"encoding":{"text":{"field":"t","type":"nominal"}}},
{"data":{"values":[]},"width":11,"height":1,"view":{"stroke":null},"mark":"point"},
{"data":{"values":[{"t":"2021"}]},"width":178,"height":29,"view":{"fill":"#D9D9D9","stroke":"#333333"},"mark":{"type":"text","fontSize":16,"color":"#1A1A1A"},"encoding":{"text":{"field":"t","type":"nominal"}}},
{"data":{"values":[]},"width":11,"height":1,"view":{"stroke":null},"mark":"point"},
{"data":{"values":[{"t":"2022"}]},"width":178,"height":29,"view":{"fill":"#D9D9D9","stroke":"#333333"},"mark":{"type":"text","fontSize":16,"color":"#1A1A1A"},"encoding":{"text":{"field":"t","type":"nominal"}}},
{"data":{"values":[]},"width":11,"height":1,"view":{"stroke":null},"mark":"point"},
{"data":{"values":[{"t":"2023"}]},"width":178,"height":29,"view":{"fill":"#D9D9D9","stroke":"#333333"},"mark":{"type":"text","fontSize":16,"color":"#1A1A1A"},"encoding":{"text":{"field":"t","type":"nominal"}}},
{"data":{"values":[]},"width":1,"height":1,"view":{"stroke":null},"mark":"point"},

{"data":{"name":"CR19"},"width":178,"height":179,"encoding":{"x":{"field":"d","type":"quantitative","scale":{"domain":[99.5,322],"nice":false,"zero":false},"axis":null},"y":{"field":"n","type":"quantitative","scale":{"domain":[-6.2,29.6],"nice":false,"zero":false},"axis":{"values":[0,10,20],"title":null}},"color":{"field":"g","type":"nominal","scale":{"domain":["N","S"],"range":["#F8766D","#00BFC4"]},"legend":{"title":"DPS","labelExpr":"datum.label=='N'?'North':'South'"}}},"layer":[{"mark":{"type":"circle","size":50,"opacity":1}},{"transform":[{"loess":"n","on":"d","groupby":["g"],"bandwidth":0.5}],"mark":{"type":"line","strokeWidth":7,"opacity":0.3}},{"transform":[{"loess":"n","on":"d","groupby":["g"],"bandwidth":0.5}],"mark":{"type":"line","strokeWidth":1.8}}]},
{"data":{"values":[]},"width":1,"height":1,"view":{"stroke":null},"mark":"point"},
{"data":{"name":"CR20"},"width":178,"height":179,"encoding":{"x":{"field":"d","type":"quantitative","scale":{"domain":[99.5,322],"nice":false,"zero":false},"axis":null},"y":{"field":"n","type":"quantitative","scale":{"domain":[-6.2,29.6],"nice":false,"zero":false},"axis":null},"color":{"field":"g","type":"nominal","scale":{"domain":["N","S"],"range":["#F8766D","#00BFC4"]},"legend":{"title":"DPS","labelExpr":"datum.label=='N'?'North':'South'"}}},"layer":[{"mark":{"type":"circle","size":50,"opacity":1}},{"transform":[{"loess":"n","on":"d","groupby":["g"],"bandwidth":0.5}],"mark":{"type":"line","strokeWidth":7,"opacity":0.3}},{"transform":[{"loess":"n","on":"d","groupby":["g"],"bandwidth":0.5}],"mark":{"type":"line","strokeWidth":1.8}}]},
{"data":{"values":[]},"width":1,"height":1,"view":{"stroke":null},"mark":"point"},
{"data":{"name":"CR21"},"width":178,"height":179,"encoding":{"x":{"field":"d","type":"quantitative","scale":{"domain":[99.5,322],"nice":false,"zero":false},"axis":null},"y":{"field":"n","type":"quantitative","scale":{"domain":[-6.2,29.6],"nice":false,"zero":false},"axis":null},"color":{"field":"g","type":"nominal","scale":{"domain":["N","S"],"range":["#F8766D","#00BFC4"]},"legend":{"title":"DPS","labelExpr":"datum.label=='N'?'North':'South'"}}},"layer":[{"mark":{"type":"circle","size":50,"opacity":1}},{"transform":[{"loess":"n","on":"d","groupby":["g"],"bandwidth":0.5}],"mark":{"type":"line","strokeWidth":7,"opacity":0.3}},{"transform":[{"loess":"n","on":"d","groupby":["g"],"bandwidth":0.5}],"mark":{"type":"line","strokeWidth":1.8}}]},
{"data":{"values":[]},"width":1,"height":1,"view":{"stroke":null},"mark":"point"},
{"data":{"name":"CR22"},"width":178,"height":179,"encoding":{"x":{"field":"d","type":"quantitative","scale":{"domain":[99.5,322],"nice":false,"zero":false},"axis":null},"y":{"field":"n","type":"quantitative","scale":{"domain":[-6.2,29.6],"nice":false,"zero":false},"axis":null},"color":{"field":"g","type":"nominal","scale":{"domain":["N","S"],"range":["#F8766D","#00BFC4"]},"legend":{"title":"DPS","labelExpr":"datum.label=='N'?'North':'South'"}}},"layer":[{"mark":{"type":"circle","size":50,"opacity":1}},{"transform":[{"loess":"n","on":"d","groupby":["g"],"bandwidth":0.5}],"mark":{"type":"line","strokeWidth":7,"opacity":0.3}},{"transform":[{"loess":"n","on":"d","groupby":["g"],"bandwidth":0.5}],"mark":{"type":"line","strokeWidth":1.8}}]},
{"data":{"values":[]},"width":1,"height":1,"view":{"stroke":null},"mark":"point"},
{"data":{"name":"CR23"},"width":178,"height":179,"encoding":{"x":{"field":"d","type":"quantitative","scale":{"domain":[99.5,322],"nice":false,"zero":false},"axis":null},"y":{"field":"n","type":"quantitative","scale":{"domain":[-6.2,29.6],"nice":false,"zero":false},"axis":null},"color":{"field":"g","type":"nominal","scale":{"domain":["N","S"],"range":["#F8766D","#00BFC4"]},"legend":{"title":"DPS","labelExpr":"datum.label=='N'?'North':'South'"}}},"layer":[{"mark":{"type":"circle","size":50,"opacity":1}},{"transform":[{"loess":"n","on":"d","groupby":["g"],"bandwidth":0.5}],"mark":{"type":"line","strokeWidth":7,"opacity":0.3}},{"transform":[{"loess":"n","on":"d","groupby":["g"],"bandwidth":0.5}],"mark":{"type":"line","strokeWidth":1.8}}]},
{"data":{"values":[{"t":"CR"}]},"width":35,"height":179,"view":{"fill":"#D9D9D9","stroke":"#333333"},"mark":{"type":"text","fontSize":16,"color":"#1A1A1A","angle":90},"encoding":{"text":{"field":"t","type":"nominal"}}},

{"data":{"values":[]},"width":1,"height":9,"view":{"stroke":null},"mark":"point"},
{"data":{"values":[]},"width":1,"height":1,"view":{"stroke":null},"mark":"point"},
{"data":{"values":[]},"width":1,"height":1,"view":{"stroke":null},"mark":"point"},
{"data":{"values":[]},"width":1,"height":1,"view":{"stroke":null},"mark":"point"},
{"data":{"values":[]},"width":1,"height":1,"view":{"stroke":null},"mark":"point"},
{"data":{"values":[]},"width":1,"height":1,"view":{"stroke":null},"mark":"point"},
{"data":{"values":[]},"width":1,"height":1,"view":{"stroke":null},"mark":"point"},
{"data":{"values":[]},"width":1,"height":1,"view":{"stroke":null},"mark":"point"},
{"data":{"values":[]},"width":1,"height":1,"view":{"stroke":null},"mark":"point"},
{"data":{"values":[]},"width":1,"height":1,"view":{"stroke":null},"mark":"point"},

{"data":{"name":"GH19"},"width":178,"height":179,"encoding":{"x":{"field":"d","type":"quantitative","scale":{"domain":[99.5,322],"nice":false,"zero":false},"axis":null},"y":{"field":"n","type":"quantitative","scale":{"domain":[-6.2,29.6],"nice":false,"zero":false},"axis":{"values":[0,10,20],"title":"Count of Unique Fish Detected"}},"color":{"field":"g","type":"nominal","scale":{"domain":["N","S"],"range":["#F8766D","#00BFC4"]},"legend":{"title":"DPS","labelExpr":"datum.label=='N'?'North':'South'"}}},"layer":[{"mark":{"type":"circle","size":50,"opacity":1}},{"transform":[{"loess":"n","on":"d","groupby":["g"],"bandwidth":0.5}],"mark":{"type":"line","strokeWidth":7,"opacity":0.3}},{"transform":[{"loess":"n","on":"d","groupby":["g"],"bandwidth":0.5}],"mark":{"type":"line","strokeWidth":1.8}}]},
{"data":{"values":[]},"width":1,"height":1,"view":{"stroke":null},"mark":"point"},
{"data":{"name":"GH20"},"width":178,"height":179,"encoding":{"x":{"field":"d","type":"quantitative","scale":{"domain":[99.5,322],"nice":false,"zero":false},"axis":null},"y":{"field":"n","type":"quantitative","scale":{"domain":[-6.2,29.6],"nice":false,"zero":false},"axis":null},"color":{"field":"g","type":"nominal","scale":{"domain":["N","S"],"range":["#F8766D","#00BFC4"]},"legend":{"title":"DPS","labelExpr":"datum.label=='N'?'North':'South'"}}},"layer":[{"mark":{"type":"circle","size":50,"opacity":1}},{"transform":[{"loess":"n","on":"d","groupby":["g"],"bandwidth":0.5}],"mark":{"type":"line","strokeWidth":7,"opacity":0.3}},{"transform":[{"loess":"n","on":"d","groupby":["g"],"bandwidth":0.5}],"mark":{"type":"line","strokeWidth":1.8}}]},
{"data":{"values":[]},"width":1,"height":1,"view":{"stroke":null},"mark":"point"},
{"data":{"name":"GH21"},"width":178,"height":179,"encoding":{"x":{"field":"d","type":"quantitative","scale":{"domain":[99.5,322],"nice":false,"zero":false},"axis":null},"y":{"field":"n","type":"quantitative","scale":{"domain":[-6.2,29.6],"nice":false,"zero":false},"axis":null},"color":{"field":"g","type":"nominal","scale":{"domain":["N","S"],"range":["#F8766D","#00BFC4"]},"legend":{"title":"DPS","labelExpr":"datum.label=='N'?'North':'South'"}}},"layer":[{"mark":{"type":"circle","size":50,"opacity":1}},{"transform":[{"loess":"n","on":"d","groupby":["g"],"bandwidth":0.5}],"mark":{"type":"line","strokeWidth":7,"opacity":0.3}},{"transform":[{"loess":"n","on":"d","groupby":["g"],"bandwidth":0.5}],"mark":{"type":"line","strokeWidth":1.8}}]},
{"data":{"values":[]},"width":1,"height":1,"view":{"stroke":null},"mark":"point"},
{"data":{"name":"GH22"},"width":178,"height":179,"encoding":{"x":{"field":"d","type":"quantitative","scale":{"domain":[99.5,322],"nice":false,"zero":false},"axis":null},"y":{"field":"n","type":"quantitative","scale":{"domain":[-6.2,29.6],"nice":false,"zero":false},"axis":null},"color":{"field":"g","type":"nominal","scale":{"domain":["N","S"],"range":["#F8766D","#00BFC4"]},"legend":{"title":"DPS","labelExpr":"datum.label=='N'?'North':'South'"}}},"layer":[{"mark":{"type":"circle","size":50,"opacity":1}},{"transform":[{"loess":"n","on":"d","groupby":["g"],"bandwidth":0.5}],"mark":{"type":"line","strokeWidth":7,"opacity":0.3}},{"transform":[{"loess":"n","on":"d","groupby":["g"],"bandwidth":0.5}],"mark":{"type":"line","strokeWidth":1.8}}]},
{"data":{"values":[]},"width":1,"height":1,"view":{"stroke":null},"mark":"point"},
{"data":{"name":"GH23"},"width":178,"height":179,"encoding":{"x":{"field":"d","type":"quantitative","scale":{"domain":[99.5,322],"nice":false,"zero":false},"axis":null},"y":{"field":"n","type":"quantitative","scale":{"domain":[-6.2,29.6],"nice":false,"zero":false},"axis":null},"color":{"field":"g","type":"nominal","scale":{"domain":["N","S"],"range":["#F8766D","#00BFC4"]},"legend":{"title":"DPS","labelExpr":"datum.label=='N'?'North':'South'"}}},"layer":[{"mark":{"type":"circle","size":50,"opacity":1}},{"transform":[{"loess":"n","on":"d","groupby":["g"],"bandwidth":0.5}],"mark":{"type":"line","strokeWidth":7,"opacity":0.3}},{"transform":[{"loess":"n","on":"d","groupby":["g"],"bandwidth":0.5}],"mark":{"type":"line","strokeWidth":1.8}}]},
{"data":{"values":[{"t":"GH"}]},"width":35,"height":179,"view":{"fill":"#D9D9D9","stroke":"#333333"},"mark":{"type":"text","fontSize":16,"color":"#1A1A1A","angle":90},"encoding":{"text":{"field":"t","type":"nominal"}}},

{"data":{"values":[]},"width":1,"height":9,"view":{"stroke":null},"mark":"point"},
{"data":{"values":[]},"width":1,"height":1,"view":{"stroke":null},"mark":"point"},
{"data":{"values":[]},"width":1,"height":1,"view":{"stroke":null},"mark":"point"},
{"data":{"values":[]},"width":1,"height":1,"view":{"stroke":null},"mark":"point"},
{"data":{"values":[]},"width":1,"height":1,"view":{"stroke":null},"mark":"point"},
{"data":{"values":[]},"width":1,"height":1,"view":{"stroke":null},"mark":"point"},
{"data":{"values":[]},"width":1,"height":1,"view":{"stroke":null},"mark":"point"},
{"data":{"values":[]},"width":1,"height":1,"view":{"stroke":null},"mark":"point"},
{"data":{"values":[]},"width":1,"height":1,"view":{"stroke":null},"mark":"point"},
{"data":{"values":[]},"width":1,"height":1,"view":{"stroke":null},"mark":"point"},

{"data":{"name":"WB19"},"width":178,"height":179,"encoding":{"x":{"field":"d","type":"quantitative","scale":{"domain":[99.5,322],"nice":false,"zero":false},"axis":{"values":[100,150,200,250,300],"title":null}},"y":{"field":"n","type":"quantitative","scale":{"domain":[-6.2,29.6],"nice":false,"zero":false},"axis":{"values":[0,10,20],"title":null}},"color":{"field":"g","type":"nominal","scale":{"domain":["N","S"],"range":["#F8766D","#00BFC4"]},"legend":{"title":"DPS","labelExpr":"datum.label=='N'?'North':'South'"}}},"layer":[{"mark":{"type":"circle","size":50,"opacity":1}},{"transform":[{"loess":"n","on":"d","groupby":["g"],"bandwidth":0.5}],"mark":{"type":"line","strokeWidth":7,"opacity":0.3}},{"transform":[{"loess":"n","on":"d","groupby":["g"],"bandwidth":0.5}],"mark":{"type":"line","strokeWidth":1.8}}]},
{"data":{"values":[]},"width":1,"height":1,"view":{"stroke":null},"mark":"point"},
{"data":{"name":"WB20"},"width":178,"height":179,"encoding":{"x":{"field":"d","type":"quantitative","scale":{"domain":[99.5,322],"nice":false,"zero":false},"axis":{"values":[100,150,200,250,300],"title":null}},"y":{"field":"n","type":"quantitative","scale":{"domain":[-6.2,29.6],"nice":false,"zero":false},"axis":null},"color":{"field":"g","type":"nominal","scale":{"domain":["N","S"],"range":["#F8766D","#00BFC4"]},"legend":{"title":"DPS","labelExpr":"datum.label=='N'?'North':'South'"}}},"layer":[{"mark":{"type":"circle","size":50,"opacity":1}},{"transform":[{"loess":"n","on":"d","groupby":["g"],"bandwidth":0.5}],"mark":{"type":"line","strokeWidth":7,"opacity":0.3}},{"transform":[{"loess":"n","on":"d","groupby":["g"],"bandwidth":0.5}],"mark":{"type":"line","strokeWidth":1.8}}]},
{"data":{"values":[]},"width":1,"height":1,"view":{"stroke":null},"mark":"point"},
{"data":{"name":"WB21"},"width":178,"height":179,"encoding":{"x":{"field":"d","type":"quantitative","scale":{"domain":[99.5,322],"nice":false,"zero":false},"axis":{"values":[100,150,200,250,300],"title":"Day of Year"}},"y":{"field":"n","type":"quantitative","scale":{"domain":[-6.2,29.6],"nice":false,"zero":false},"axis":null},"color":{"field":"g","type":"nominal","scale":{"domain":["N","S"],"range":["#F8766D","#00BFC4"]},"legend":{"title":"DPS","labelExpr":"datum.label=='N'?'North':'South'"}}},"layer":[{"mark":{"type":"circle","size":50,"opacity":1}},{"transform":[{"loess":"n","on":"d","groupby":["g"],"bandwidth":0.5}],"mark":{"type":"line","strokeWidth":7,"opacity":0.3}},{"transform":[{"loess":"n","on":"d","groupby":["g"],"bandwidth":0.5}],"mark":{"type":"line","strokeWidth":1.8}}]},
{"data":{"values":[]},"width":1,"height":1,"view":{"stroke":null},"mark":"point"},
{"data":{"name":"WB22"},"width":178,"height":179,"encoding":{"x":{"field":"d","type":"quantitative","scale":{"domain":[99.5,322],"nice":false,"zero":false},"axis":{"values":[100,150,200,250,300],"title":null}},"y":{"field":"n","type":"quantitative","scale":{"domain":[-6.2,29.6],"nice":false,"zero":false},"axis":null},"color":{"field":"g","type":"nominal","scale":{"domain":["N","S"],"range":["#F8766D","#00BFC4"]},"legend":{"title":"DPS","labelExpr":"datum.label=='N'?'North':'South'"}}},"layer":[{"mark":{"type":"circle","size":50,"opacity":1}},{"transform":[{"loess":"n","on":"d","groupby":["g"],"bandwidth":0.5}],"mark":{"type":"line","strokeWidth":7,"opacity":0.3}},{"transform":[{"loess":"n","on":"d","groupby":["g"],"bandwidth":0.5}],"mark":{"type":"line","strokeWidth":1.8}}]},
{"data":{"values":[]},"width":1,"height":1,"view":{"stroke":null},"mark":"point"},
{"data":{"name":"WB23"},"width":178,"height":179,"encoding":{"x":{"field":"d","type":"quantitative","scale":{"domain":[99.5,322],"nice":false,"zero":false},"axis":{"values":[100,150,200,250,300],"title":null}},"y":{"field":"n","type":"quantitative","scale":{"domain":[-6.2,29.6],"nice":false,"zero":false},"axis":null},"color":{"field":"g","type":"nominal","scale":{"domain":["N","S"],"range":["#F8766D","#00BFC4"]},"legend":{"title":"DPS","labelExpr":"datum.label=='N'?'North':'South'"}}},"layer":[{"mark":{"type":"circle","size":50,"opacity":1}}]},
{"data":{"values":[{"t":"WB"}]},"width":35,"height":179,"view":{"fill":"#D9D9D9","stroke":"#333333"},"mark":{"type":"text","fontSize":16,"color":"#1A1A1A","angle":90},"encoding":{"text":{"field":"t","type":"nominal"}}}
],
"columns":10,
"spacing":0,
"bounds":"flush",
"align":"each",
"resolve":{"scale":{"color":"shared"},"legend":{"color":"shared"}},
"config":{
"font":"Liberation Sans",
"view":{"stroke":"#333333","strokeWidth":1},
"axis":{"grid":false,"domain":false,"ticks":true,"tickColor":"#333333","tickSize":4,"labelFont":"Liberation Sans","labelFontSize":15,"labelColor":"#4D4D4D","labelPadding":2,"labelFlush":false,"labelOverlap":false,"titleFont":"Liberation Sans","titleFontSize":24,"titleFontWeight":"bold","titleColor":"#000000","titlePadding":11},
"axisX":{"titlePadding":5},
"legend":{"orient":"none","legendX":999,"legendY":266,"titleFont":"Liberation Sans","titleFontSize":20,"titleFontWeight":"normal","titleColor":"#000000","titlePadding":8,"labelFont":"Liberation Sans","labelFontSize":14,"labelColor":"#000000","labelOffset":12,"symbolType":"M-1,-0.08L1,-0.08L1,0.08L-1,0.08Z M0.19,0A0.19,0.19,0,1,1,-0.19,0A0.19,0.19,0,1,1,0.19,0Z","symbolSize":676,"symbolStrokeWidth":0,"symbolOpacity":1,"rowPadding":10}
}
}
